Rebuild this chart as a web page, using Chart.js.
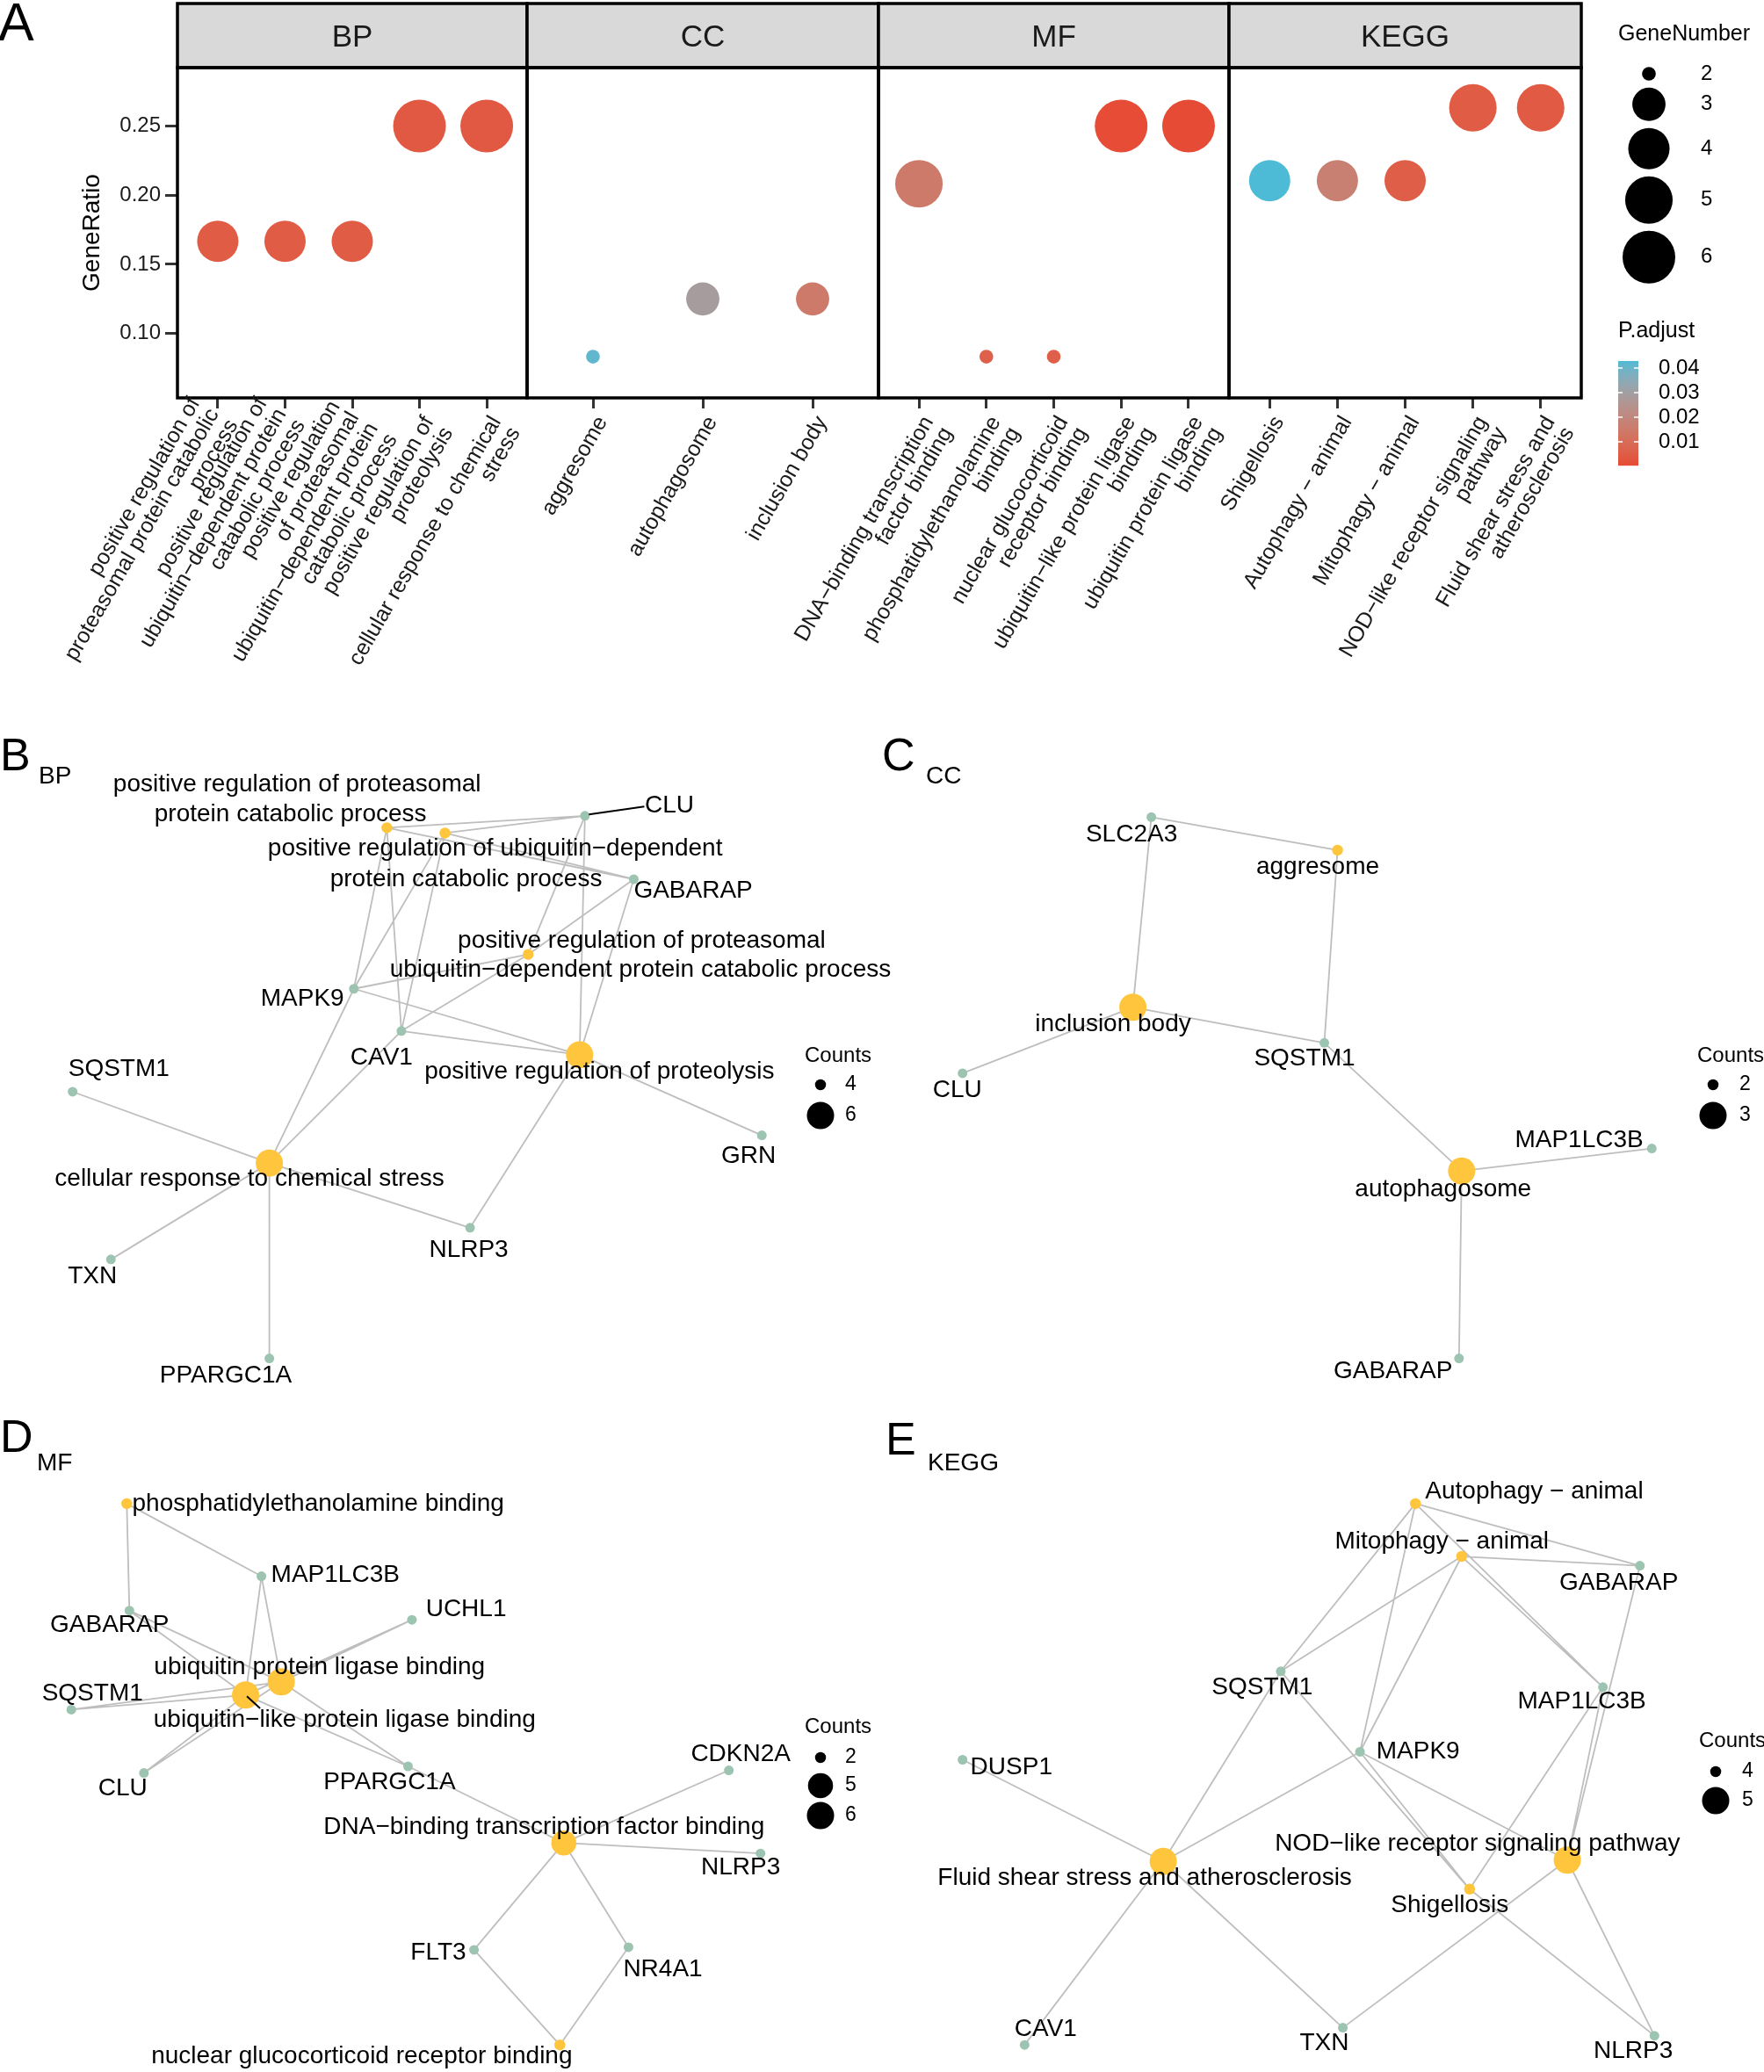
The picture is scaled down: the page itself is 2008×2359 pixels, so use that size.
<!DOCTYPE html>
<html>
<head>
<meta charset="utf-8">
<title>Enrichment dot plot and gene-concept networks</title>
<script src="https://cdn.jsdelivr.net/npm/chart.js@4.4.1/dist/chart.umd.min.js"></script>
<style>
  html, body { margin: 0; padding: 0; background: #fff; }
  #fig { position: relative; width: 2008px; height: 2359px; overflow: hidden; font-family: "Liberation Sans", Arial, sans-serif; }
  #fig canvas { position: absolute; }
  .tag { position: absolute; line-height: 1; color: #000; white-space: nowrap; }
</style>
</head>
<body>
<div id="fig">
  <canvas id="dotBP" width="2008" height="800" style="left:0px;top:0px"></canvas>
  <canvas id="dotCC" width="2008" height="800" style="left:0px;top:0px"></canvas>
  <canvas id="dotMF" width="2008" height="800" style="left:0px;top:0px"></canvas>
  <canvas id="dotKEGG" width="2008" height="800" style="left:0px;top:0px"></canvas>
  <canvas id="netBP" width="1100" height="760" style="left:0px;top:830px"></canvas>
  <canvas id="netCC" width="1008" height="760" style="left:1000px;top:830px"></canvas>
  <canvas id="netMF" width="1100" height="769" style="left:0px;top:1590px"></canvas>
  <canvas id="netKEGG" width="1008" height="769" style="left:1000px;top:1590px"></canvas>

  <div class="tag" style="left:-2px;top:-5px;font-size:61px">A</div>
  <div class="tag" style="left:0px;top:833px;font-size:52px">B</div>
  <div class="tag" style="left:44px;top:869px;font-size:28px">BP</div>
  <div class="tag" style="left:1004px;top:833px;font-size:52px">C</div>
  <div class="tag" style="left:1054px;top:869px;font-size:28px">CC</div>
  <div class="tag" style="left:0px;top:1609px;font-size:52px">D</div>
  <div class="tag" style="left:42px;top:1651px;font-size:28px">MF</div>
  <div class="tag" style="left:1008px;top:1612px;font-size:52px">E</div>
  <div class="tag" style="left:1056px;top:1651px;font-size:28px">KEGG</div>
</div>
<script>
/* ---------- A: dot plot data ---------- */
const bpTerms = [
  ['positive regulation of', 'proteasomal protein catabolic', 'process'],
  ['positive regulation of', 'ubiquitin−dependent protein', 'catabolic process'],
  ['positive regulation', 'of proteasomal', 'ubiquitin−dependent protein', 'catabolic process'],
  ['positive regulation of', 'proteolysis'],
  ['cellular response to chemical', 'stress']
];
const bpRatio = [0.1667, 0.1667, 0.1667, 0.25, 0.25];
const bpGeneNum = [4, 4, 4, 6, 6];
const bpPadj = [0.0048, 0.0048, 0.0048, 0.0042, 0.0042];

const ccTerms = [['aggresome'], ['autophagosome'], ['inclusion body']];
const ccRatio = [0.0833, 0.125, 0.125];
const ccGeneNum = [2, 3, 3];
const ccPadj = [0.041, 0.0285, 0.015];

const mfTerms = [
  ['DNA−binding transcription', 'factor binding'],
  ['phosphatidylethanolamine', 'binding'],
  ['nuclear glucocorticoid', 'receptor binding'],
  ['ubiquitin−like protein ligase', 'binding'],
  ['ubiquitin protein ligase', 'binding']
];
const mfRatio = [0.2083, 0.0833, 0.0833, 0.25, 0.25];
const mfGeneNum = [5, 2, 2, 6, 6];
const mfPadj = [0.015, 0.006, 0.006, 0.0006, 0.0004];

const keggTerms = [
  ['Shigellosis'],
  ['Autophagy − animal'],
  ['Mitophagy − animal'],
  ['NOD−like receptor signaling', 'pathway'],
  ['Fluid shear stress and', 'atherosclerosis']
];
const keggRatio = [0.2105, 0.2105, 0.2105, 0.2632, 0.2632];
const keggGeneNum = [4, 4, 4, 5, 5];
const keggPadj = [0.0429, 0.017, 0.0055, 0.0048, 0.0045];

const ratioTicks = [0.10, 0.15, 0.20, 0.25];
const geneNumBreaks = [2, 3, 4, 5, 6];
const padjBreaks = [0.01, 0.02, 0.03, 0.04];

/* ---------- B-E: gene-concept network data (layout units) ---------- */
const bpNetTerms = ['positive regulation of proteasomal protein catabolic process',
  'positive regulation of ubiquitin−dependent protein catabolic process',
  'positive regulation of proteasomal ubiquitin−dependent protein catabolic process',
  'positive regulation of proteolysis', 'cellular response to chemical stress'];
const bpNetCounts = [4, 4, 4, 6, 6];
const bpNetSets = [
  ['CLU', 'GABARAP', 'MAPK9', 'CAV1'],
  ['CLU', 'GABARAP', 'MAPK9', 'CAV1'],
  ['CLU', 'GABARAP', 'MAPK9', 'CAV1'],
  ['CLU', 'GABARAP', 'MAPK9', 'CAV1', 'NLRP3', 'GRN'],
  ['SQSTM1', 'TXN', 'PPARGC1A', 'NLRP3', 'MAPK9', 'CAV1']];
const bpTermX = [293, 337, 400, 439, 204];
const bpTermY = [627, 631, 723, 799, 881];
const bpGenes = ['CLU', 'GABARAP', 'MAPK9', 'CAV1', 'SQSTM1', 'GRN', 'NLRP3', 'TXN', 'PPARGC1A'];
const bpGeneX = [443, 480, 268, 304, 55, 577, 356, 84, 204];
const bpGeneY = [618, 666, 749, 781, 827, 860, 930, 954, 1029];

const ccNetTerms = ['aggresome', 'inclusion body', 'autophagosome'];
const ccNetCounts = [2, 3, 3];
const ccNetSets = [['SLC2A3', 'SQSTM1'], ['SLC2A3', 'SQSTM1', 'CLU'], ['SQSTM1', 'MAP1LC3B', 'GABARAP']];
const ccTermX = [1013, 858, 1107];
const ccTermY = [644, 763, 887];
const ccGenes = ['SLC2A3', 'SQSTM1', 'CLU', 'MAP1LC3B', 'GABARAP'];
const ccGeneX = [872, 1003, 729, 1251, 1105];
const ccGeneY = [619, 790, 813, 870, 1029];

const mfNetTerms = ['phosphatidylethanolamine binding', 'ubiquitin protein ligase binding',
  'ubiquitin−like protein ligase binding', 'DNA−binding transcription factor binding',
  'nuclear glucocorticoid receptor binding'];
const mfNetCounts = [2, 6, 6, 5, 2];
const mfNetSets = [
  ['GABARAP', 'MAP1LC3B'],
  ['MAP1LC3B', 'GABARAP', 'SQSTM1', 'CLU', 'UCHL1', 'PPARGC1A'],
  ['MAP1LC3B', 'GABARAP', 'SQSTM1', 'CLU', 'UCHL1', 'PPARGC1A'],
  ['PPARGC1A', 'CDKN2A', 'NLRP3', 'FLT3', 'NR4A1'],
  ['FLT3', 'NR4A1']];
const mfTermX = [96, 213, 186, 427, 424];
const mfTermY = [1139, 1274, 1284, 1396, 1549];
const mfGenes = ['MAP1LC3B', 'UCHL1', 'GABARAP', 'SQSTM1', 'CLU', 'PPARGC1A', 'CDKN2A', 'NLRP3', 'FLT3', 'NR4A1'];
const mfGeneX = [198, 312, 98, 54, 109, 309, 552, 576, 359, 476];
const mfGeneY = [1194, 1227, 1220, 1295, 1343, 1338, 1341, 1404, 1477, 1475];

const keggNetTerms = ['Autophagy − animal', 'Mitophagy − animal', 'Shigellosis',
  'NOD−like receptor signaling pathway', 'Fluid shear stress and atherosclerosis'];
const keggNetCounts = [4, 4, 4, 5, 5];
const keggNetSets = [
  ['SQSTM1', 'MAP1LC3B', 'GABARAP', 'MAPK9'],
  ['SQSTM1', 'MAP1LC3B', 'GABARAP', 'MAPK9'],
  ['SQSTM1', 'MAPK9', 'MAP1LC3B', 'NLRP3'],
  ['MAPK9', 'GABARAP', 'MAP1LC3B', 'TXN', 'NLRP3'],
  ['DUSP1', 'SQSTM1', 'MAPK9', 'CAV1', 'TXN']];
const keggTermX = [1072, 1107, 1113, 1187, 881];
const keggTermY = [1139, 1179, 1431, 1409, 1410];
const keggGenes = ['GABARAP', 'SQSTM1', 'MAP1LC3B', 'MAPK9', 'DUSP1', 'CAV1', 'TXN', 'NLRP3'];
const keggGeneX = [1242, 970, 1214, 1030, 729, 776, 1017, 1253];
const keggGeneY = [1186, 1266, 1278, 1327, 1333, 1549, 1536, 1542];

/* ---------- label placement for the networks (layout units) ---------- */
const bpLabels = {
  'positive regulation of proteasomal protein catabolic process':
    { lines: ['positive regulation of proteasomal', 'protein catabolic process'], at: [[225, 594], [220, 617]] },
  'positive regulation of ubiquitin−dependent protein catabolic process':
    { lines: ['positive regulation of ubiquitin−dependent', 'protein catabolic process'], at: [[375, 643], [353, 666]] },
  'positive regulation of proteasomal ubiquitin−dependent protein catabolic process':
    { lines: ['positive regulation of proteasomal', 'ubiquitin−dependent protein catabolic process'], at: [[486, 713], [485, 735]] },
  'positive regulation of proteolysis': { at: [454, 812] },
  'cellular response to chemical stress': { at: [189, 893] },
  CLU: { at: [507, 610], seg: [446, 617, 488, 611] },
  GABARAP: { at: [525, 675] }, MAPK9: { at: [229, 757] }, CAV1: { at: [289, 801] },
  SQSTM1: { at: [90, 810] }, GRN: { at: [567, 876] }, NLRP3: { at: [355, 947] },
  TXN: { at: [70, 967] }, PPARGC1A: { at: [171, 1042] }
};
const ccLabels = {
  aggresome: { at: [998, 657] }, 'inclusion body': { at: [843, 776] }, autophagosome: { at: [1093, 901] },
  SLC2A3: { at: [857, 632] }, SQSTM1: { at: [988, 802] }, CLU: { at: [725, 826] },
  MAP1LC3B: { at: [1196, 864] }, GABARAP: { at: [1055, 1039] }
};
const mfLabels = {
  'phosphatidylethanolamine binding': { at: [241, 1139] },
  'ubiquitin protein ligase binding': { at: [242, 1263] },
  'ubiquitin−like protein ligase binding': { at: [261, 1303], seg: [187, 1285, 197, 1294] },
  'DNA−binding transcription factor binding': { at: [412, 1384] },
  'nuclear glucocorticoid receptor binding': { at: [274, 1558] },
  MAP1LC3B: { at: [254, 1193] }, UCHL1: { at: [353, 1219] }, GABARAP: { at: [83, 1231] },
  SQSTM1: { at: [70, 1283] }, CLU: { at: [93, 1355] }, PPARGC1A: { at: [295, 1350] },
  CDKN2A: { at: [561, 1329] }, NLRP3: { at: [561, 1415] }, FLT3: { at: [332, 1479] },
  NR4A1: { at: [502, 1492] }
};
const keggLabels = {
  'Autophagy − animal': { at: [1162, 1130] }, 'Mitophagy − animal': { at: [1092, 1168] },
  Shigellosis: { at: [1098, 1443] }, 'NOD−like receptor signaling pathway': { at: [1119, 1397] },
  'Fluid shear stress and atherosclerosis': { at: [867, 1423] },
  GABARAP: { at: [1226, 1199] }, SQSTM1: { at: [956, 1278] }, MAP1LC3B: { at: [1198, 1289] },
  MAPK9: { at: [1074, 1327] }, DUSP1: { at: [766, 1339] }, CAV1: { at: [792, 1537] },
  TXN: { at: [1003, 1548] }, NLRP3: { at: [1237, 1554] }
};

/* ---------- scales ---------- */
const FONT = '"Liberation Sans", Arial, sans-serif';
const RED = '#E64B35', BLUE = '#4DBBD5';
const P_LOW = 0.0004, P_HIGH = 0.0429;
const RATIO_MIN = 0.0535, RATIO_MAX = 0.2922;
const TERM_COLOR = '#FFC53D', GENE_COLOR = '#9CC4B0', EDGE_COLOR = '#BEBEBE';
const UNIT = 1.503;   // page px per network layout unit

function hexToLab(hex) {
  const v = [1, 3, 5].map(i => parseInt(hex.slice(i, i + 2), 16) / 255)
    .map(c => c <= 0.04045 ? c / 12.92 : Math.pow((c + 0.055) / 1.055, 2.4));
  const X = (0.4124 * v[0] + 0.3576 * v[1] + 0.1805 * v[2]) / 0.95047;
  const Y = 0.2126 * v[0] + 0.7152 * v[1] + 0.0722 * v[2];
  const Z = (0.0193 * v[0] + 0.1192 * v[1] + 0.9505 * v[2]) / 1.08883;
  const f = t => t > 0.008856 ? Math.cbrt(t) : 7.787 * t + 16 / 116;
  return [116 * f(Y) - 16, 500 * (f(X) - f(Y)), 200 * (f(Y) - f(Z))];
}
function labToRgb(L, a, b) {
  const fy = (L + 16) / 116, fx = fy + a / 500, fz = fy - b / 200;
  const inv = t => t * t * t > 0.008856 ? t * t * t : (t - 16 / 116) / 7.787;
  const X = inv(fx) * 0.95047, Y = inv(fy), Z = inv(fz) * 1.08883;
  const lin = [3.2406 * X - 1.5372 * Y - 0.4986 * Z, -0.9689 * X + 1.8758 * Y + 0.0415 * Z, 0.0557 * X - 0.2040 * Y + 1.0570 * Z];
  const c = lin.map(u => {
    u = u <= 0.0031308 ? 12.92 * u : 1.055 * Math.pow(u, 1 / 2.4) - 0.055;
    return Math.round(Math.min(1, Math.max(0, u)) * 255);
  });
  return 'rgb(' + c.join(',') + ')';
}
const labLow = hexToLab(RED), labHigh = hexToLab(BLUE);
function padjColor(p) {
  const t = Math.min(1, Math.max(0, (p - P_LOW) / (P_HIGH - P_LOW)));
  return labToRgb(...labLow.map((v, i) => v + (labHigh[i] - v) * t));
}
// ggplot-style area scale: diameter in px
function areaScale(vmin, vmax, dmin, dmax) {
  return v => dmin + (dmax - dmin) * Math.sqrt((v - vmin) / (vmax - vmin));
}
const geneNumSize = areaScale(2, 6, 15.7, 60);

/* ---------- A: facet drawing ---------- */
const STRIP_TOP = 4, PANEL_TOP = 77, PANEL_BOTTOM = 453, CANVAS_H = 800;
// where the first wrapped line sits, in line heights, by number of lines
const LINE_START = { 1: 0.5, 2: 0.5, 3: -1.2, 4: -0.9 };

const facetPlugin = {
  id: 'facet',
  afterDraw(chart, args, o) {
    const { ctx, chartArea: a } = chart;
    const xs = chart.scales.x;
    ctx.save();
    // strip
    ctx.fillStyle = '#D9D9D9';
    ctx.fillRect(a.left, STRIP_TOP, a.right - a.left, a.top - STRIP_TOP);
    ctx.lineWidth = 3.5;
    ctx.strokeStyle = '#000';
    ctx.strokeRect(a.left, STRIP_TOP, a.right - a.left, a.top - STRIP_TOP);
    ctx.fillStyle = '#1a1a1a';
    ctx.font = '35px ' + FONT;
    ctx.textAlign = 'center';
    ctx.textBaseline = 'alphabetic';
    ctx.fillText(o.name, (a.left + a.right) / 2, 53);
    // panel border
    ctx.strokeRect(a.left, a.top, a.right - a.left, a.bottom - a.top);
    // rotated category labels
    const ang = -60 * Math.PI / 180, lh = 25;
    ctx.font = '25px ' + FONT;
    ctx.fillStyle = '#1a1a1a';
    ctx.textAlign = 'right';
    ctx.textBaseline = 'middle';
    o.terms.forEach((lines, i) => {
      const start = LINE_START[lines.length];
      ctx.save();
      ctx.translate(xs.getPixelForValue(i + 1), a.bottom + 17);
      ctx.rotate(ang);
      lines.forEach((ln, j) => ctx.fillText(ln, 0, (j + start) * lh));
      ctx.restore();
    });
    if (o.legend) drawDotLegend(ctx);
    ctx.restore();
  }
};

function drawDotLegend(ctx) {
  ctx.save();
  ctx.fillStyle = '#000';
  ctx.textAlign = 'left';
  ctx.textBaseline = 'middle';
  ctx.font = '25px ' + FONT;
  ctx.fillText('GeneNumber', 1842, 39);
  // size keys stacked by their own diameter
  ctx.font = '24px ' + FONT;
  let y = 84, prev = null;
  geneNumBreaks.forEach(v => {
    const d = geneNumSize(v);
    if (prev !== null) y += (prev + d) / 2 + 8;
    ctx.beginPath();
    ctx.arc(1877, y, d / 2, 0, Math.PI * 2);
    ctx.fill();
    ctx.fillText(String(v), 1936, y);
    prev = d;
  });
  // colour bar
  ctx.font = '25px ' + FONT;
  ctx.fillText('P.adjust', 1842, 377);
  const top = 411, bot = 530, x0 = 1842, w = 23;
  for (let yy = top; yy < bot; yy++) {
    const p = P_HIGH - (yy + 0.5 - top) / (bot - top) * (P_HIGH - P_LOW);
    ctx.fillStyle = padjColor(p);
    ctx.fillRect(x0, yy, w, 1.2);
  }
  ctx.font = '24px ' + FONT;
  padjBreaks.forEach(p => {
    const yy = bot - (p - P_LOW) / (P_HIGH - P_LOW) * (bot - top);
    ctx.strokeStyle = '#fff';
    ctx.lineWidth = 1.5;
    ctx.beginPath();
    ctx.moveTo(x0, yy); ctx.lineTo(x0 + 5, yy);
    ctx.moveTo(x0 + w - 5, yy); ctx.lineTo(x0 + w, yy);
    ctx.stroke();
    ctx.fillStyle = '#000';
    ctx.fillText(p.toFixed(2), 1888, yy);
  });
  ctx.restore();
}

function facetChart(id, name, terms, ratio, geneNum, padj, left, right, withY, legend) {
  const n = terms.length;
  return new Chart(document.getElementById(id), {
    type: 'scatter',
    data: {
      datasets: [{
        data: ratio.map((r, i) => ({ x: i + 1, y: r })),
        pointRadius: geneNum.map(g => geneNumSize(g) / 2),
        pointHoverRadius: geneNum.map(g => geneNumSize(g) / 2),
        backgroundColor: padj.map(padjColor),
        borderWidth: 0,
        clip: false
      }]
    },
    options: {
      responsive: false,
      animation: false,
      events: [],
      layout: { autoPadding: false, padding: { left: withY ? 0 : left, right: 2008 - right, top: PANEL_TOP, bottom: 0 } },
      plugins: {
        legend: { display: false },
        tooltip: { enabled: false },
        facet: { name: name, terms: terms, legend: legend }
      },
      scales: {
        x: {
          type: 'linear', min: 0.4, max: n + 0.6,
          afterBuildTicks: s => { s.ticks = terms.map((t, i) => ({ value: i + 1 })); },
          afterFit: s => { s.height = CANVAS_H - PANEL_BOTTOM; },
          ticks: { display: false },
          grid: { drawOnChartArea: false, drawTicks: true, tickLength: 12, tickColor: '#333', tickWidth: 3 },
          border: { display: false }
        },
        y: {
          display: withY,
          type: 'linear', min: RATIO_MIN, max: RATIO_MAX,
          afterBuildTicks: s => { s.ticks = ratioTicks.map(v => ({ value: v })); },
          afterFit: s => { if (withY) s.width = left; },
          ticks: { color: '#1a1a1a', padding: 5, font: { family: FONT, size: 24 }, callback: v => v.toFixed(2) },
          grid: { drawOnChartArea: false, drawTicks: true, tickLength: 14, tickColor: '#333', tickWidth: 3 },
          border: { display: false },
          title: { display: true, text: 'GeneRatio', color: '#000', font: { family: FONT, size: 28 }, padding: { top: 88 } }
        }
      }
    },
    plugins: [facetPlugin]
  });
}

facetChart('dotBP', 'BP', bpTerms, bpRatio, bpGeneNum, bpPadj, 202, 600, true, false);
facetChart('dotCC', 'CC', ccTerms, ccRatio, ccGeneNum, ccPadj, 600, 1000, false, false);
facetChart('dotMF', 'MF', mfTerms, mfRatio, mfGeneNum, mfPadj, 1000, 1399, false, false);
facetChart('dotKEGG', 'KEGG', keggTerms, keggRatio, keggGeneNum, keggPadj, 1399, 1800, false, true);

/* ---------- B-E: networks ---------- */
const netPlugin = {
  id: 'net',
  afterDatasetsDraw(chart, args, o) {
    const { ctx } = chart;
    const xs = chart.scales.x, ys = chart.scales.y;
    const px = v => xs.getPixelForValue(v), py = v => ys.getPixelForValue(v);
    ctx.save();
    ctx.fillStyle = '#000';
    ctx.textAlign = 'center';
    ctx.textBaseline = 'middle';
    ctx.font = '28px ' + FONT;
    Object.keys(o.labels).forEach(name => {
      const spec = o.labels[name];
      if (spec.seg) {
        ctx.strokeStyle = '#000';
        ctx.lineWidth = 2;
        ctx.beginPath();
        ctx.moveTo(px(spec.seg[0]), py(spec.seg[1]));
        ctx.lineTo(px(spec.seg[2]), py(spec.seg[3]));
        ctx.stroke();
      }
      if (spec.lines) {
        spec.lines.forEach((ln, j) => ctx.fillText(ln, px(spec.at[j][0]), py(spec.at[j][1])));
      } else {
        ctx.fillText(name, px(spec.at[0]), py(spec.at[1]));
      }
    });
    // Counts legend
    const lg = o.legend, ox = chart.canvas.offsetLeft, oy = chart.canvas.offsetTop;
    ctx.textAlign = 'left';
    ctx.font = '24px ' + FONT;
    ctx.fillText('Counts', lg.left - ox, lg.titleY - oy);
    ctx.font = '23px ' + FONT;
    lg.values.forEach((v, i) => {
      const d = o.size(v);
      ctx.beginPath();
      ctx.arc(lg.dotX - ox, lg.ys[i] - oy, d / 2, 0, Math.PI * 2);
      ctx.fill();
      ctx.fillText(String(v), lg.labelX - ox, lg.ys[i] - oy);
    });
    ctx.restore();
  }
};

function networkChart(id, left, top, width, height, terms, counts, sets, tx, ty, genes, gx, gy, labels, legend) {
  const size = areaScale(Math.min(...counts), Math.max(...counts), 12.5, 31);
  const edges = [];
  terms.forEach((t, i) => {
    sets[i].forEach(g => {
      const k = genes.indexOf(g);
      edges.push({ x: tx[i], y: ty[i] }, { x: gx[k], y: gy[k] }, { x: gx[k], y: null });
    });
  });
  legend.values = [...new Set(counts)].sort((a, b) => a - b);
  return new Chart(document.getElementById(id), {
    type: 'scatter',
    data: {
      datasets: [
        { data: terms.map((t, i) => ({ x: tx[i], y: ty[i] })), pointRadius: counts.map(c => size(c) / 2),
          backgroundColor: TERM_COLOR, borderWidth: 0, order: 0, clip: false },
        { data: genes.map((g, i) => ({ x: gx[i], y: gy[i] })), pointRadius: 5.5,
          backgroundColor: GENE_COLOR, borderWidth: 0, order: 1, clip: false },
        { data: edges, showLine: true, spanGaps: false, pointRadius: 0, borderColor: EDGE_COLOR,
          borderWidth: 1.8, order: 2, clip: false }
      ]
    },
    options: {
      responsive: false,
      animation: false,
      events: [],
      layout: { autoPadding: false, padding: 0 },
      plugins: {
        legend: { display: false },
        tooltip: { enabled: false },
        net: { labels: labels, legend: legend, size: size }
      },
      scales: {
        x: { type: 'linear', display: false, min: left / UNIT, max: (left + width) / UNIT },
        y: { type: 'linear', display: false, reverse: true, min: top / UNIT, max: (top + height) / UNIT }
      }
    },
    plugins: [netPlugin]
  });
}

networkChart('netBP', 0, 830, 1100, 760, bpNetTerms, bpNetCounts, bpNetSets, bpTermX, bpTermY,
  bpGenes, bpGeneX, bpGeneY, bpLabels, { left: 916, titleY: 1202, dotX: 934, labelX: 962, ys: [1235, 1270] });
networkChart('netCC', 1000, 830, 1008, 760, ccNetTerms, ccNetCounts, ccNetSets, ccTermX, ccTermY,
  ccGenes, ccGeneX, ccGeneY, ccLabels, { left: 1932, titleY: 1202, dotX: 1950, labelX: 1980, ys: [1235, 1270] });
networkChart('netMF', 0, 1590, 1100, 769, mfNetTerms, mfNetCounts, mfNetSets, mfTermX, mfTermY,
  mfGenes, mfGeneX, mfGeneY, mfLabels, { left: 916, titleY: 1966, dotX: 934, labelX: 962, ys: [2001, 2033, 2067] });
networkChart('netKEGG', 1000, 1590, 1008, 769, keggNetTerms, keggNetCounts, keggNetSets, keggTermX, keggTermY,
  keggGenes, keggGeneX, keggGeneY, keggLabels, { left: 1934, titleY: 1982, dotX: 1953, labelX: 1983, ys: [2017, 2050] });
</script>
</body>
</html>
